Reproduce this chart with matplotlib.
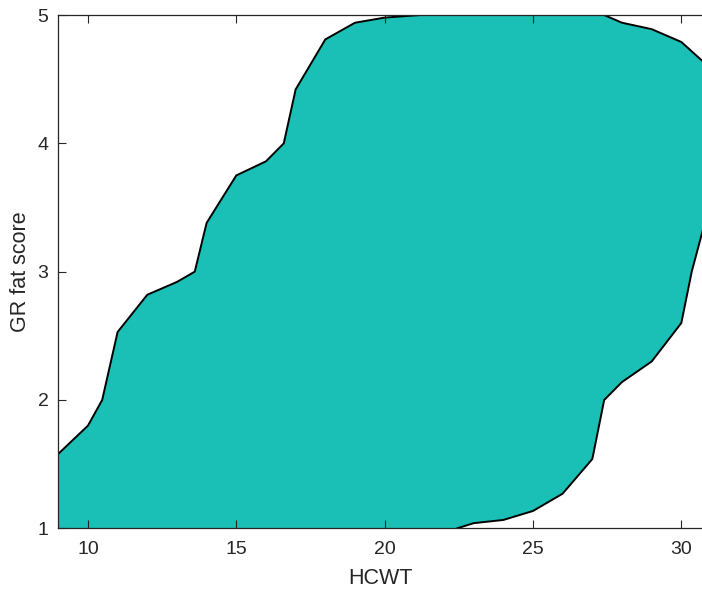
import matplotlib.pyplot as plt

plt.rcParams['font.family'] = ['Liberation Sans', 'DejaVu Sans']

# Upper-left boundary of the region (HCWT, GR fat score), bottom to top
upper_x = [9.0, 10.0, 10.48, 11.0, 12.0, 13.0, 13.6, 14.0, 15.0, 16.0, 16.6, 17.0, 18.0, 19.0, 20.0, 21.2, 22.5]
upper_y = [1.58, 1.80, 2.0, 2.53, 2.82, 2.92, 3.0, 3.38, 3.75, 3.86, 4.0, 4.42, 4.81, 4.94, 4.98, 5.0, 5.0]

# Lower-right boundary, top to bottom
lower_x = [27.4, 28.0, 29.0, 30.0, 30.72, 30.72, 30.35, 30.0, 29.0, 28.0, 27.4, 27.0, 26.0, 25.0, 24.0, 23.0, 22.45]
lower_y = [5.0, 4.94, 4.89, 4.79, 4.64, 3.32, 3.0, 2.60, 2.30, 2.14, 2.0, 1.54, 1.27, 1.135, 1.065, 1.04, 1.0]

fill_color = '#1abfb5'
ink = '#262626'

fig = plt.figure(figsize=(7.02, 5.92), dpi=100)
ax = fig.add_axes([0.083, 0.1076, 0.918, 0.867])

# closed region: upper curve, along the top, lower curve, then around the bottom-left corner
poly_x = upper_x + lower_x + [9.0]
poly_y = upper_y + lower_y + [1.0]
ax.fill(poly_x, poly_y, color=fill_color, lw=0, zorder=1)
ax.plot(upper_x, upper_y, color='black', lw=1.4, zorder=2)
ax.plot(lower_x[:5], lower_y[:5], color='black', lw=1.4, zorder=2)
ax.plot(lower_x[5:], lower_y[5:], color='black', lw=1.4, zorder=2)

ax.set_xlim(9.0, 30.72)
ax.set_ylim(1, 5)
ax.set_xticks([10, 15, 20, 25, 30])
ax.set_yticks([1, 2, 3, 4, 5])

ax.tick_params(direction='in', length=6, width=0.8, color=ink, labelcolor=ink,
               labelsize=14, top=True, right=False)
ax.tick_params(axis='x', pad=9)
ax.tick_params(axis='y', pad=7)
for s in ax.spines.values():
    s.set_color(ink)
    s.set_linewidth(0.9)
ax.spines['right'].set_visible(False)

ax.set_xlabel('HCWT', fontsize=15.5, color=ink, labelpad=7)
ax.set_ylabel('GR fat score', fontsize=15.5, color=ink, labelpad=5)

fig.savefig('out.png', dpi=100)
